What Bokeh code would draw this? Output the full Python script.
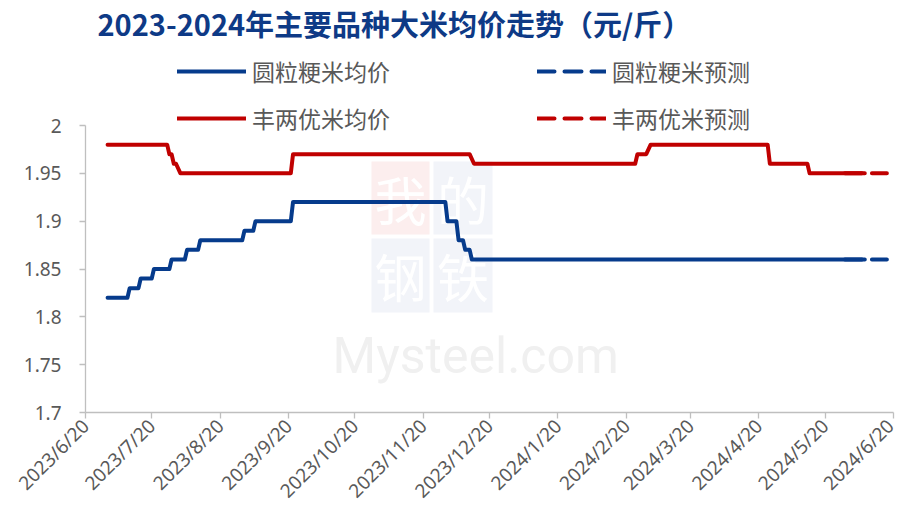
import math
import pandas as pd
from bokeh.plotting import figure
from bokeh.models import (Range1d, FixedTicker, Legend, LegendItem, Label,
                          BoxAnnotation)
from bokeh.embed import file_html
from bokeh.resources import INLINE

# ---------------- data ----------------
tick_dates = ["2023-06-20", "2023-07-20", "2023-08-20", "2023-09-20", "2023-10-20",
              "2023-11-20", "2023-12-20", "2024-01-20", "2024-02-20", "2024-03-20",
              "2024-04-20", "2024-05-20", "2024-06-20"]
tick_labels = ["2023/6/20", "2023/7/20", "2023/8/20", "2023/9/20", "2023/10/20",
               "2023/11/20", "2023/12/20", "2024/1/20", "2024/2/20", "2024/3/20",
               "2024/4/20", "2024/5/20", "2024/6/20"]
y_ticks = [1.7, 1.75, 1.8, 1.85, 1.9, 1.95, 2.0]
y_labels = ["1.7", "1.75", "1.8", "1.85", "1.9", "1.95", "2"]

# 圆粒粳米均价
japonica_dates = ["2023-06-30", "2023-07-09", "2023-07-10", "2023-07-14", "2023-07-15",
                  "2023-07-20", "2023-07-21", "2023-07-28", "2023-07-29", "2023-08-04",
                  "2023-08-05", "2023-08-10", "2023-08-11", "2023-08-30", "2023-08-31",
                  "2023-09-04", "2023-09-05", "2023-09-21", "2023-09-22", "2023-11-30",
                  "2023-12-01", "2023-12-05", "2023-12-06", "2023-12-08", "2023-12-09",
                  "2023-12-11", "2023-12-12", "2024-06-07"]
japonica_vals = [1.82, 1.82, 1.83, 1.83, 1.84,
                 1.84, 1.85, 1.85, 1.86, 1.86,
                 1.87, 1.87, 1.88, 1.88, 1.89,
                 1.89, 1.90, 1.90, 1.92, 1.92,
                 1.90, 1.90, 1.88, 1.88, 1.87,
                 1.87, 1.86, 1.86]
# 圆粒粳米预测
japonica_fc_dates = ["2024-05-29", "2024-06-17"]
japonica_fc_vals = [1.86, 1.86]

# 丰两优米均价
fly_dates = ["2023-06-30", "2023-07-27", "2023-07-28", "2023-07-29", "2023-07-30",
             "2023-07-31", "2023-08-02", "2023-09-21", "2023-09-22", "2023-12-11",
             "2023-12-13", "2024-02-24", "2024-02-25", "2024-02-29", "2024-03-02",
             "2024-04-24", "2024-04-25", "2024-05-12", "2024-05-13", "2024-06-07"]
fly_vals = [1.98, 1.98, 1.97, 1.97, 1.96,
            1.96, 1.95, 1.95, 1.97, 1.97,
            1.96, 1.96, 1.97, 1.97, 1.98,
            1.98, 1.96, 1.96, 1.95, 1.95]
# 丰两优米预测
fly_fc_dates = ["2024-05-29", "2024-06-17"]
fly_fc_vals = [1.95, 1.95]

# ---------------- style ----------------
BLUE = "#063B8C"
RED = "#C00000"
GREY_TXT = "#595959"
AXIS = "#BFBFBF"
CJK = "Noto Sans CJK SC"

FRAME_H = 412      # frame spans the whole top so header texts are not clipped
AXIS_H = 287       # pixel height of the 1.7..2.0 axis
Y0, Y1 = y_ticks[0], y_ticks[-1]
y_top = Y0 + (Y1 - Y0) * FRAME_H / AXIS_H


def to_dt(lst):
    return pd.to_datetime(lst)


def ms(d):
    return int(pd.Timestamp(d).value // 10**6)


p = figure(width=899, height=527, x_axis_type="datetime",
           x_range=Range1d(pd.Timestamp(tick_dates[0]), pd.Timestamp(tick_dates[-1])),
           y_range=Range1d(Y0, y_top),
           output_backend="svg", toolbar_location=None,
           min_border_left=85, min_border_right=6, min_border_top=0,
           min_border_bottom=115)
p.outline_line_color = None
p.xgrid.visible = False
p.ygrid.visible = False
p.background_fill_color = "white"
p.border_fill_color = "white"

# watermark
wm_boxes = [
    (286, 344, 178, 251, "#FCEEEE", "我"),
    (348, 407, 178, 251, "#F2F4F9", "的"),
    (286, 344, 100, 174, "#F2F4F9", "钢"),
    (348, 407, 100, 174, "#F2F4F9", "铁"),
]
for l, r, b, t, c, ch in wm_boxes:
    p.add_layout(BoxAnnotation(left=l, right=r, bottom=b, top=t,
                               left_units="screen", right_units="screen",
                               bottom_units="screen", top_units="screen",
                               fill_color=c, fill_alpha=1, line_color=None,
                               level="underlay"))
for l, r, b, t, c, ch in wm_boxes:
    lab = Label(x=(l + r) / 2, y=(b + t) / 2, x_units="screen", y_units="screen",
                text=ch, text_align="center", text_baseline="middle",
                text_font=CJK, text_font_style="normal", text_font_size="52px",
                text_color="white")
    lab.level = "underlay"
    p.add_layout(lab)
wm = Label(x=247, y=57, x_units="screen", y_units="screen", text="Mysteel.com",
           text_font="Roboto", text_font_size="50px",
           text_color="#F0F0F0", text_baseline="alphabetic")
wm.level = "underlay"
p.add_layout(wm)

# lines
r_b = p.line(to_dt(japonica_dates), japonica_vals, line_color=BLUE, line_width=4,
             line_join="round", line_cap="round")
r_r = p.line(to_dt(fly_dates), fly_vals, line_color=RED, line_width=4,
             line_join="round", line_cap="round")
r_bf = p.line(to_dt(japonica_fc_dates), japonica_fc_vals, line_color=BLUE, line_width=4,
              line_dash="17 10", line_cap="round")
r_rf = p.line(to_dt(fly_fc_dates), fly_fc_vals, line_color=RED, line_width=4,
              line_dash="17 10", line_cap="round")

# axes
p.xaxis.ticker = FixedTicker(ticks=[ms(d) for d in tick_dates])
p.xaxis.major_label_overrides = {ms(d): lab for d, lab in zip(tick_dates, tick_labels)}
p.xaxis.major_label_orientation = math.pi / 4
p.yaxis.ticker = FixedTicker(ticks=y_ticks)
p.yaxis.major_label_overrides = {v: s for v, s in zip(y_ticks, y_labels)}
p.yaxis.bounds = (Y0, Y1)
for ax in (p.xaxis[0], p.yaxis[0]):
    ax.axis_line_color = AXIS
    ax.axis_line_width = 1.3
    ax.major_tick_line_color = AXIS
    ax.major_tick_line_width = 1.3
    ax.major_tick_in = 0
    ax.major_tick_out = 6
    ax.minor_tick_line_color = None
    ax.major_label_text_color = GREY_TXT
    ax.major_label_text_font = "Noto Sans"
p.xaxis.major_label_text_font_size = "19px"
p.xaxis.major_label_standoff = 4
p.yaxis.major_label_text_font_size = "19px"
p.yaxis.major_label_standoff = 18

# title
p.add_layout(Label(x=12, y=390, x_units="screen", y_units="screen",
                   text="2023-2024年主要品种大米均价走势（元/斤）",
                   text_font=CJK, text_font_style="bold", text_font_size="29px",
                   text_color="#0E3A86", text_baseline="middle"))

# legends
common = dict(orientation="vertical", glyph_width=69, glyph_height=22, label_height=22,
              label_standoff=6, spacing=13, padding=0, margin=0,
              border_line_color=None, background_fill_alpha=0,
              label_text_font=CJK, label_text_font_size="23px",
              label_text_color=GREY_TXT)
leg1 = Legend(items=[LegendItem(label="圆粒粳米均价", renderers=[r_b]),
                     LegendItem(label="丰两优米均价", renderers=[r_r])],
              location=(92, 277), **common)
leg2 = Legend(items=[LegendItem(label="圆粒粳米预测", renderers=[r_bf]),
                     LegendItem(label="丰两优米预测", renderers=[r_rf])],
              location=(452, 277), **common)
p.add_layout(leg1)
p.add_layout(leg2)

open("out.html", "w").write(file_html(p, INLINE))
